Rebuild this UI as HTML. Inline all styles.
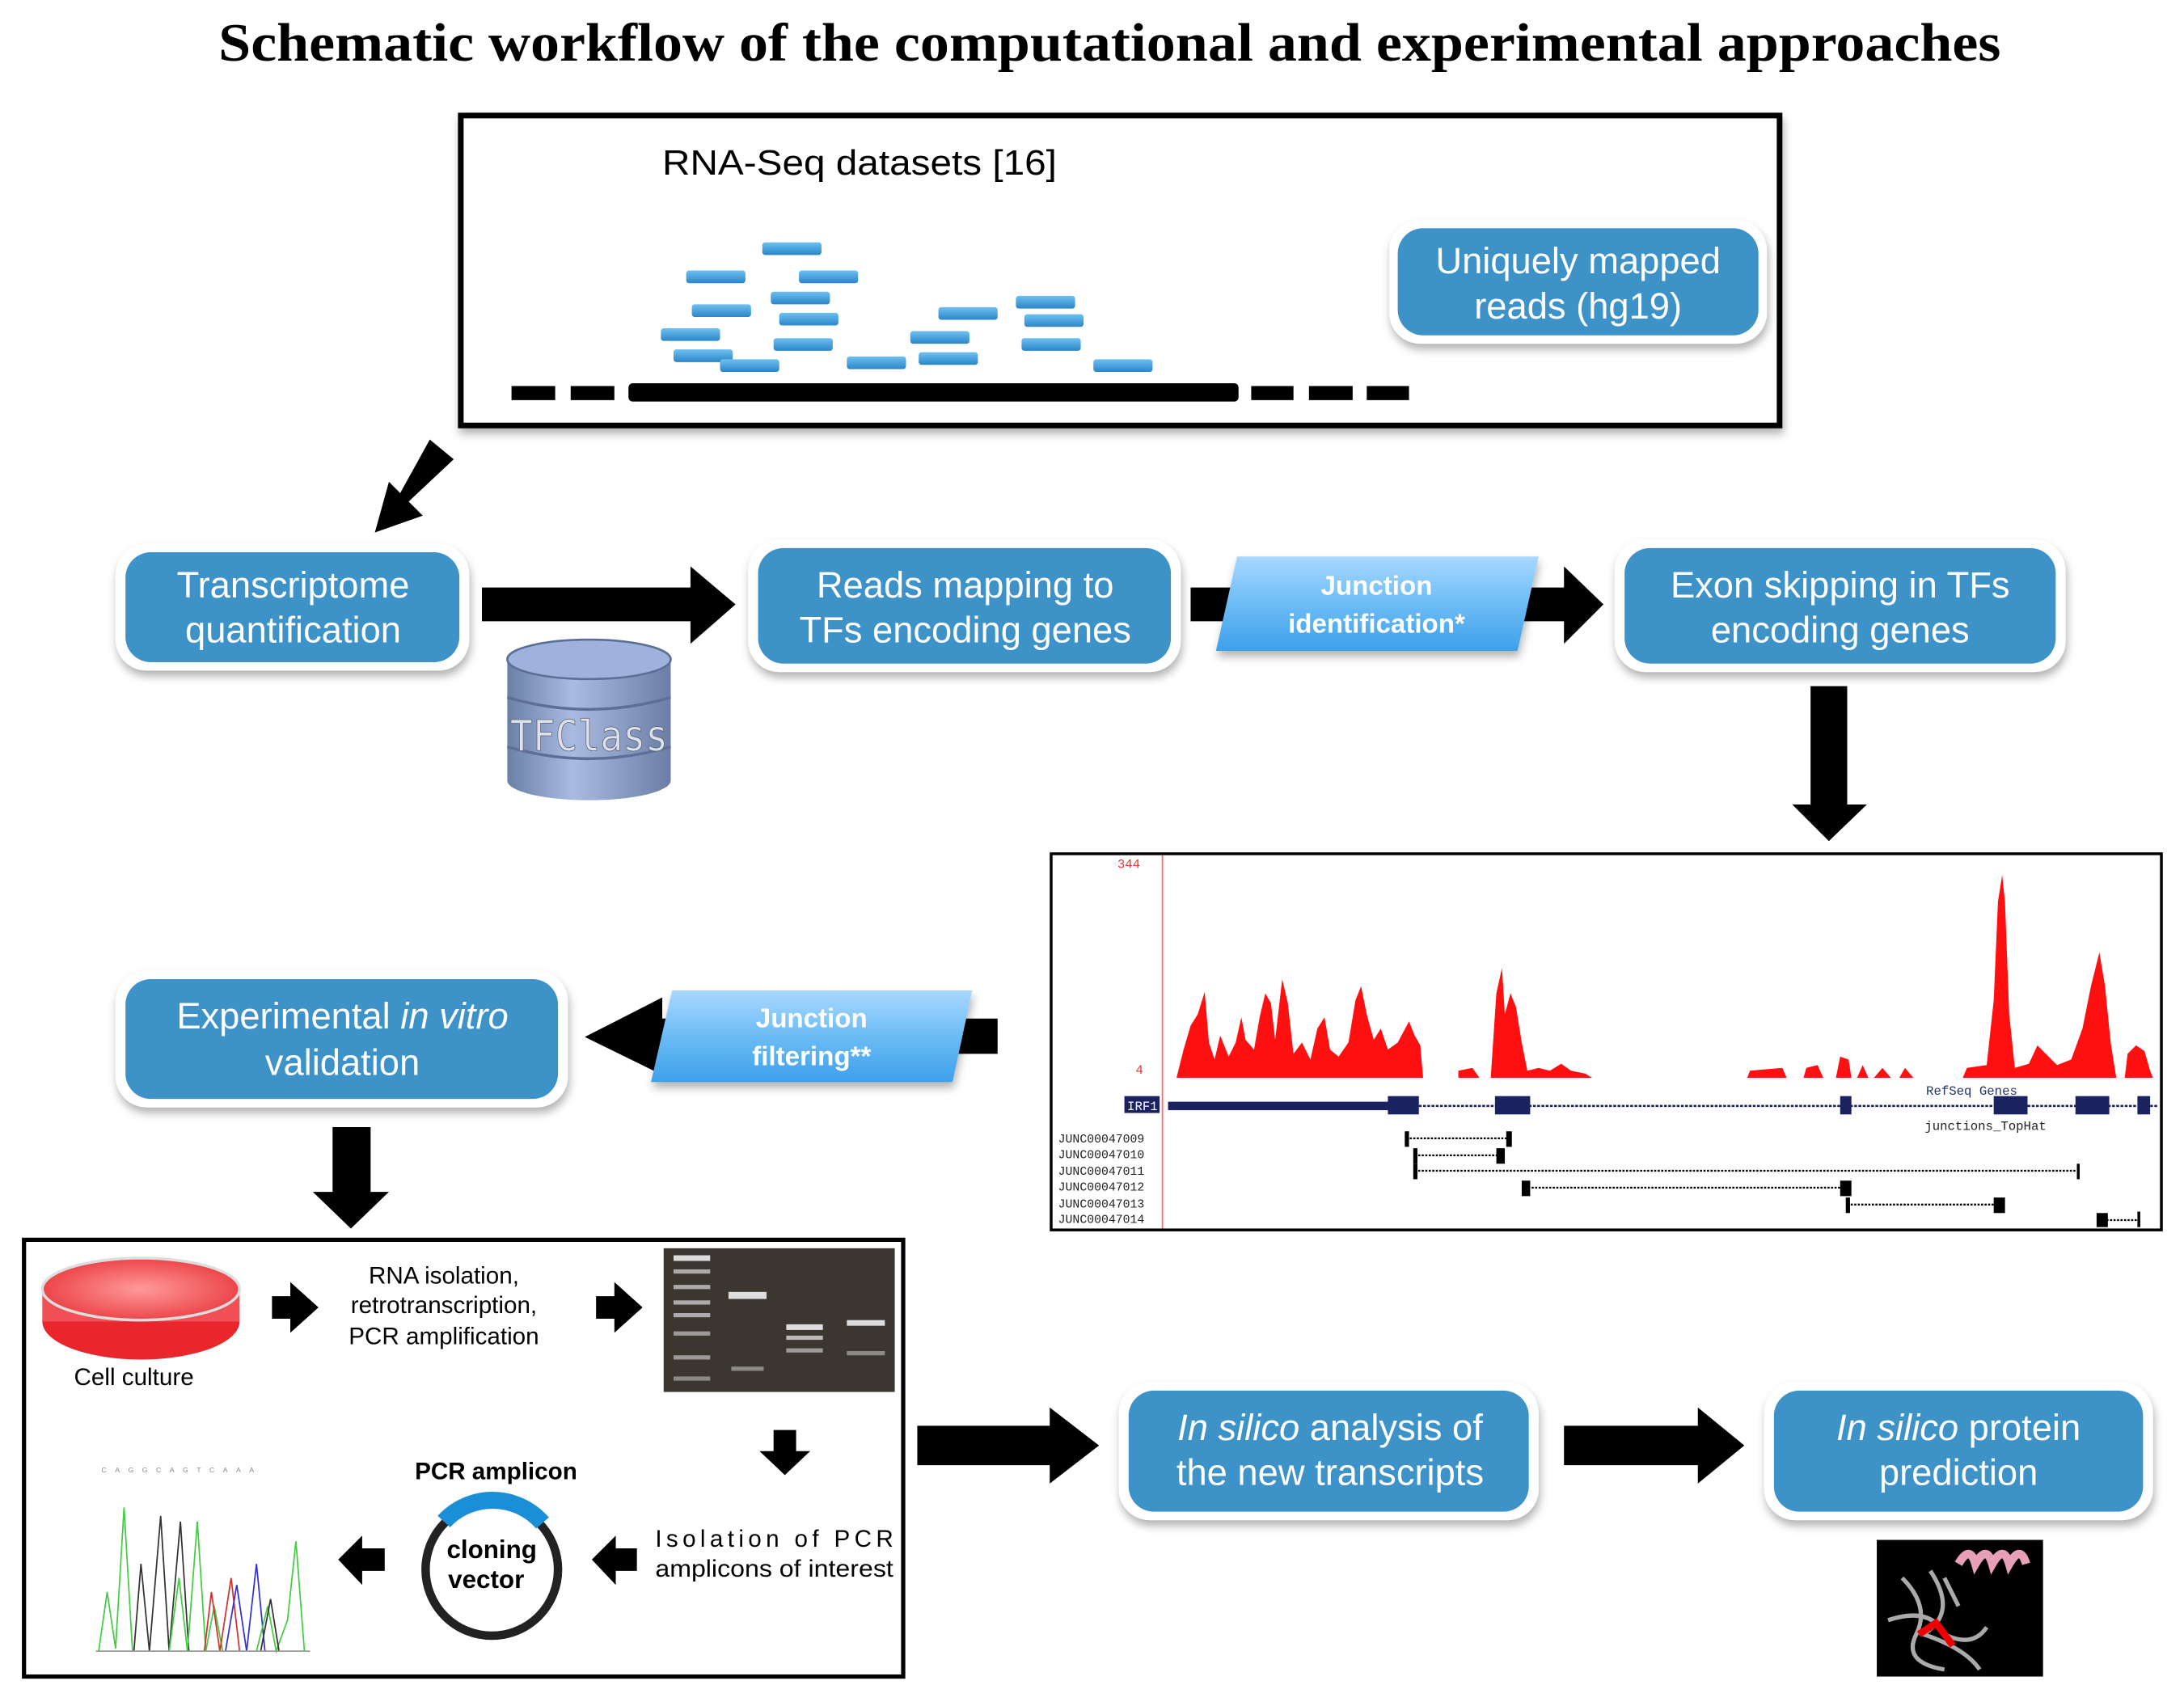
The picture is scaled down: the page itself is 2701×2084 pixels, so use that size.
<!DOCTYPE html>
<html><head><meta charset="utf-8"><style>html,body{margin:0;padding:0;background:#fff}svg{display:block}</style></head>
<body>
<svg width="2701" height="2084" viewBox="0 0 1550 1196" xmlns="http://www.w3.org/2000/svg" font-family="Liberation Sans, sans-serif">
<defs>
<filter id="sh" x="-10%" y="-10%" width="130%" height="140%"><feDropShadow dx="1" dy="4" stdDeviation="3" flood-color="#000" flood-opacity="0.3"/></filter>
<linearGradient id="lb" x1="0" y1="0" x2="0" y2="1"><stop offset="0" stop-color="#a9d8ff"/><stop offset="0.5" stop-color="#6cbcf5"/><stop offset="1" stop-color="#3da0ea"/></linearGradient>
<linearGradient id="rd" x1="0" y1="0" x2="0" y2="1"><stop offset="0" stop-color="#6fc0f0"/><stop offset="1" stop-color="#2a86c8"/></linearGradient>
<linearGradient id="cyl" x1="0" y1="0" x2="1" y2="0"><stop offset="0" stop-color="#6b80a8"/><stop offset="0.4" stop-color="#a9bbe0"/><stop offset="1" stop-color="#6b7ea6"/></linearGradient>
<radialGradient id="dish" cx="0.5" cy="0.5" r="0.6"><stop offset="0" stop-color="#ff9a9a"/><stop offset="1" stop-color="#e8353a"/></radialGradient>
</defs>

<text x="155" y="43" font-family="Liberation Serif, serif" font-weight="bold" font-size="38" textLength="1265" lengthAdjust="spacingAndGlyphs">Schematic workflow of the computational and experimental approaches</text>

<!-- top box -->
<rect x="327" y="82" width="936" height="220" fill="#fff" stroke="#000" stroke-width="4" filter="url(#sh)"/>
<text x="470" y="124" font-size="25" textLength="280" lengthAdjust="spacingAndGlyphs">RNA-Seq datasets [16]</text>
<g fill="url(#rd)">
<rect x="541" y="172" width="42" height="9" rx="2"/><rect x="487" y="192" width="42" height="9" rx="2"/><rect x="567" y="192" width="42" height="9" rx="2"/>
<rect x="547" y="207" width="42" height="9" rx="2"/><rect x="491" y="216" width="42" height="9" rx="2"/><rect x="553" y="222" width="42" height="9" rx="2"/>
<rect x="666" y="218" width="42" height="9" rx="2"/><rect x="721" y="210" width="42" height="9" rx="2"/><rect x="727" y="223" width="42" height="9" rx="2"/>
<rect x="469" y="233" width="42" height="9" rx="2"/><rect x="549" y="240" width="42" height="9" rx="2"/><rect x="646" y="235" width="42" height="9" rx="2"/>
<rect x="725" y="240" width="42" height="9" rx="2"/><rect x="478" y="248" width="42" height="9" rx="2"/><rect x="511" y="255" width="42" height="9" rx="2"/>
<rect x="601" y="253" width="42" height="9" rx="2"/><rect x="652" y="250" width="42" height="9" rx="2"/><rect x="776" y="255" width="42" height="9" rx="2"/>
</g>
<g fill="#000">
<rect x="363" y="274" width="31" height="10"/><rect x="405" y="274" width="31" height="10"/><rect x="446" y="272" width="433" height="13" rx="3"/>
<rect x="888" y="274" width="30" height="10"/><rect x="929" y="274" width="31" height="10"/><rect x="970" y="274" width="30" height="10"/>
</g>

<!-- blue boxes -->
<g filter="url(#sh)" fill="#fff">
<rect x="986" y="156" width="268" height="88" rx="22"/>
<rect x="82" y="386" width="251" height="90" rx="22"/>
<rect x="531" y="383" width="307" height="94" rx="22"/>
<rect x="1146" y="383" width="320" height="94" rx="22"/>
<rect x="82" y="689" width="321" height="97" rx="22"/>
<rect x="794" y="981" width="298" height="98" rx="22"/>
<rect x="1252" y="981" width="276" height="98" rx="22"/>
</g>
<g fill="#3d93c8">
<rect x="992" y="162" width="256" height="76" rx="18"/>
<rect x="89" y="392" width="237" height="78" rx="18"/>
<rect x="538" y="389" width="293" height="82" rx="18"/>
<rect x="1153" y="389" width="306" height="82" rx="18"/>
<rect x="89" y="695" width="307" height="85" rx="18"/>
<rect x="801" y="987" width="284" height="86" rx="18"/>
<rect x="1259" y="987" width="262" height="86" rx="18"/>
</g>
<g fill="#fff" font-size="26" text-anchor="middle">
<text x="1120" y="194">Uniquely mapped</text><text x="1120" y="226">reads (hg19)</text>
<text x="208" y="424">Transcriptome</text><text x="208" y="456">quantification</text>
<text x="685" y="424">Reads mapping to</text><text x="685" y="456">TFs encoding genes</text>
<text x="1306" y="424">Exon skipping in TFs</text><text x="1306" y="456">encoding genes</text>
<text x="243" y="730">Experimental <tspan font-style="italic">in vitro</tspan></text><text x="243" y="763">validation</text>
<text x="944" y="1022"><tspan font-style="italic">In silico</tspan> analysis of</text><text x="944" y="1054">the new transcripts</text>
<text x="1390" y="1022"><tspan font-style="italic">In silico</tspan> protein</text><text x="1390" y="1054">prediction</text>
</g>

<!-- arrows -->
<g fill="#000">
<polygon points="305,312 322,326 290,356 300,366 266,378 276,342 284,350"/>
<polygon points="342,417 490,417 490,402 522,429 490,457 490,441 342,441"/>
<polygon points="845,417 1110,417 1110,402 1138,429 1110,457 1110,441 845,441"/>
<polygon points="1285,487 1311,487 1311,571 1325,571 1298,597 1272,571 1285,571"/>
<polygon points="708,723 470,723 470,708 415,736 470,763 470,748 708,748"/>
<polygon points="236,800 263,800 263,846 276,846 249,872 222,846 236,846"/>
<polygon points="651,1012 745,1012 745,999 780,1026 745,1053 745,1040 651,1040"/>
<polygon points="1110,1012 1205,1012 1205,999 1238,1026 1205,1053 1205,1040 1110,1040"/>
</g>
<!-- parallelograms -->
<g filter="url(#sh)">
<polygon points="878,395 1092,395 1077,462 863,462" fill="url(#lb)"/>
<polygon points="477,703 690,703 676,768 462,768" fill="url(#lb)"/>
</g>
<g fill="#fff" font-weight="bold" font-size="19" text-anchor="middle">
<text x="977" y="422">Junction</text><text x="977" y="449">identification*</text>
<text x="576" y="729">Junction</text><text x="576" y="756">filtering**</text>
</g>

<!-- cylinder -->
<g>
<rect x="360" y="468" width="116" height="86" fill="url(#cyl)"/>
<ellipse cx="418" cy="554" rx="58" ry="14" fill="url(#cyl)"/>
<ellipse cx="418" cy="468" rx="58" ry="14" fill="#9fb2db" stroke="#5d6f96" stroke-width="1.5"/>
<path d="M360 495 Q418 512 476 495 M360 530 Q418 547 476 530" fill="none" stroke="#5d6f96" stroke-width="2"/>
<text x="418" y="533" text-anchor="middle" font-size="30" fill="#dde3ee" stroke="#667" stroke-width="0.5" font-family="DejaVu Sans Mono, monospace" textLength="112" lengthAdjust="spacingAndGlyphs">TFClass</text>
</g>

<!-- genome browser -->
<rect x="746" y="606" width="788" height="267" fill="#fff" stroke="#000" stroke-width="2"/>
<line x1="825" y1="607" x2="825" y2="872" stroke="#f66" stroke-width="1"/>
<text x="793" y="616" font-size="9" fill="#e33" font-family="Liberation Mono, monospace">344</text>
<text x="806" y="762" font-size="9" fill="#e33" font-family="Liberation Mono, monospace">4</text>
<path fill="#ff1010" d="M835 765 L840 745 L845 728 L850 720 L855 704 L858 740 L862 752 L866 735 L872 750 L877 740 L881 722 L884 738 L890 745 L894 722 L898 705 L902 712 L905 738 L910 695 L914 712 L918 748 L924 740 L930 752 L935 730 L940 722 L944 745 L950 750 L957 740 L962 710 L966 700 L970 720 L975 738 L980 730 L985 745 L992 740 L1000 725 L1004 735 L1008 742 L1010 765 L1035 765 L1035 760 L1045 758 L1050 765 L1058 765 L1062 705 L1066 687 L1068 720 L1072 705 L1076 715 L1080 740 L1084 760 L1092 758 L1100 760 L1108 755 L1115 760 L1125 762 L1130 765 Z
M1240 765 L1242 760 L1265 758 L1268 765 Z M1280 765 L1282 758 L1290 756 L1294 765 Z M1303 765 L1306 750 L1312 752 L1314 765 Z M1318 765 L1322 756 L1326 765 Z M1330 765 L1336 758 L1342 765 Z M1348 765 L1352 758 L1358 765 Z
M1393 765 L1396 758 L1410 756 L1415 710 L1418 640 L1421 621 L1423 640 L1426 720 L1430 758 L1440 755 L1446 742 L1452 748 L1460 756 L1470 752 L1478 730 L1484 700 L1490 676 L1494 700 L1498 740 L1502 765 Z
M1508 765 L1510 748 L1516 742 L1522 746 L1526 760 L1528 765 Z"/>
<text x="1367" y="777" font-size="9" fill="#23336b" font-family="Liberation Mono, monospace">RefSeq Genes</text>
<rect x="798" y="778" width="25" height="12" fill="#1a2260"/>
<text x="800" y="788" font-size="9" fill="#fff" font-family="Liberation Mono, monospace">IRF1</text>
<line x1="830" y1="785" x2="1532" y2="785" stroke="#1a2260" stroke-width="1.5" stroke-dasharray="2 1"/>
<g fill="#1a2260">
<rect x="829" y="782" width="157" height="6"/><rect x="985" y="778" width="22" height="13"/><rect x="1061" y="778" width="25" height="13"/>
<rect x="1306" y="778" width="8" height="13"/><rect x="1415" y="778" width="24" height="13"/><rect x="1473" y="778" width="24" height="13"/><rect x="1517" y="778" width="9" height="13"/>
</g>
<text x="1366" y="802" font-size="9" fill="#222" font-family="Liberation Mono, monospace">junctions_TopHat</text>
<g font-size="8.5" fill="#222" font-family="Liberation Mono, monospace">
<text x="751" y="811">JUNC00047009</text><text x="751" y="822">JUNC00047010</text><text x="751" y="834">JUNC00047011</text>
<text x="751" y="845">JUNC00047012</text><text x="751" y="857">JUNC00047013</text><text x="751" y="868">JUNC00047014</text>
</g>
<g stroke="#000" stroke-width="1.3" stroke-dasharray="1.5 1">
<line x1="998" y1="808" x2="1071" y2="808"/><line x1="1004" y1="820" x2="1066" y2="820"/><line x1="1004" y1="831" x2="1475" y2="831"/>
<line x1="1082" y1="843" x2="1310" y2="843"/><line x1="1311" y1="855" x2="1420" y2="855"/><line x1="1490" y1="866" x2="1518" y2="866"/>
</g>
<g fill="#000">
<rect x="997" y="803" width="3" height="11"/><rect x="1069" y="803" width="4" height="11"/><rect x="1003" y="815" width="3" height="11"/><rect x="1062" y="815" width="6" height="11"/>
<rect x="1003" y="826" width="3" height="11"/><rect x="1474" y="826" width="2" height="11"/><rect x="1080" y="838" width="6" height="11"/><rect x="1306" y="838" width="8" height="11"/>
<rect x="1310" y="850" width="3" height="11"/><rect x="1415" y="850" width="8" height="11"/><rect x="1488" y="861" width="8" height="10"/><rect x="1517" y="860" width="2" height="11"/>
</g>

<!-- bottom box -->
<rect x="17" y="880" width="624" height="310" fill="#fff" stroke="#000" stroke-width="3"/>
<ellipse cx="100" cy="938" rx="70" ry="27" fill="#e9262c"/>
<rect x="30" y="915" width="140" height="23" fill="#f05055"/>
<ellipse cx="100" cy="915" rx="70" ry="22" fill="url(#dish)" stroke="#ddd" stroke-width="2"/>
<text x="95" y="983" font-size="17" text-anchor="middle">Cell culture</text>
<g font-size="17" text-anchor="middle">
<text x="315" y="911">RNA isolation,</text><text x="315" y="932">retrotranscription,</text><text x="315" y="954">PCR amplification</text>
</g>
<g fill="#000">
<polygon points="193,920 206,920 206,910 226,928 206,946 206,936 193,936"/>
<polygon points="423,920 436,920 436,910 456,928 436,946 436,936 423,936"/>
<polygon points="549,1015 565,1015 565,1030 575,1030 557,1047 539,1030 549,1030"/>
<polygon points="452,1099 437,1099 437,1090 420,1107 437,1125 437,1115 452,1115"/>
<polygon points="273,1099 257,1099 257,1090 240,1107 257,1125 257,1115 273,1115"/>
</g>
<rect x="471" y="886" width="164" height="102" fill="#3b3630"/>
<g fill="#ddd">
<rect x="478" y="891" width="26" height="4"/><rect x="478" y="901" width="26" height="3" opacity="0.7"/><rect x="478" y="912" width="26" height="3" opacity="0.7"/>
<rect x="478" y="923" width="26" height="3" opacity="0.7"/><rect x="478" y="932" width="26" height="3" opacity="0.7"/><rect x="478" y="945" width="26" height="3" opacity="0.6"/>
<rect x="478" y="962" width="26" height="3" opacity="0.6"/><rect x="478" y="977" width="26" height="3" opacity="0.5"/>
<rect x="517" y="917" width="27" height="5"/><rect x="519" y="970" width="23" height="3" opacity="0.5"/>
<rect x="558" y="940" width="26" height="4"/><rect x="558" y="948" width="26" height="3" opacity="0.8"/><rect x="558" y="957" width="26" height="3" opacity="0.6"/>
<rect x="601" y="937" width="27" height="4"/><rect x="601" y="959" width="27" height="3" opacity="0.5"/>
</g>
<text x="465" y="1098" font-size="17" textLength="169" lengthAdjust="spacing">Isolation of PCR</text>
<text x="465" y="1119" font-size="17" textLength="169" lengthAdjust="spacingAndGlyphs">amplicons of interest</text>
<text x="352" y="1050" font-size="17" font-weight="bold" text-anchor="middle">PCR amplicon</text>
<circle cx="349" cy="1114" r="47" fill="none" stroke="#222" stroke-width="6"/>
<path d="M315 1080 A47 47 0 0 1 385 1081" fill="none" stroke="#1a8fd8" stroke-width="12"/>
<text x="349" y="1106" font-size="18" font-weight="bold" text-anchor="middle">cloning</text>
<text x="345" y="1127" font-size="18" font-weight="bold" text-anchor="middle">vector</text>
<g fill="none" stroke-width="1">
<path d="M70 1172 L76 1130 L82 1170 L88 1070 L94 1172" stroke="#4c4"/>
<path d="M95 1172 L100 1110 L106 1172 L114 1076 L120 1172 L128 1080 L134 1172" stroke="#333"/>
<path d="M120 1172 L127 1120 L133 1172 L140 1080 L146 1172 L152 1140 L158 1172" stroke="#4c4"/>
<path d="M145 1172 L150 1130 L156 1172 L164 1120 L170 1172" stroke="#c33"/>
<path d="M160 1172 L168 1125 L175 1172 L182 1110 L188 1172" stroke="#33c"/>
<path d="M182 1172 L190 1140 L196 1172 L204 1150 L210 1094 L216 1172" stroke="#4c4"/>
<path d="M185 1172 L192 1135 L198 1172" stroke="#333"/>
<path d="M68 1172 L220 1172" stroke="#999"/>
</g>
<g font-size="5" fill="#888"><text x="72" y="1045" letter-spacing="6">CAGGCAGTCAAA</text></g>
<rect x="1332" y="1093" width="118" height="97" fill="#000"/>
<path d="M1390 1110 q8 -14 12 0 q8 -14 12 0 q8 -14 12 0 q8 -14 12 0" fill="none" stroke="#e8a0b8" stroke-width="6"/>
<path d="M1350 1120 q20 20 10 40 q-10 20 20 25 M1370 1115 q20 30 -5 45 q30 10 40 25 M1340 1150 q30 -10 40 10 q20 10 30 -5 M1380 1120 l10 20" fill="none" stroke="#aaa" stroke-width="3"/>
<path d="M1362 1160 l12 -8 l12 16" fill="none" stroke="#e00" stroke-width="5"/>
</svg>
</body></html>
